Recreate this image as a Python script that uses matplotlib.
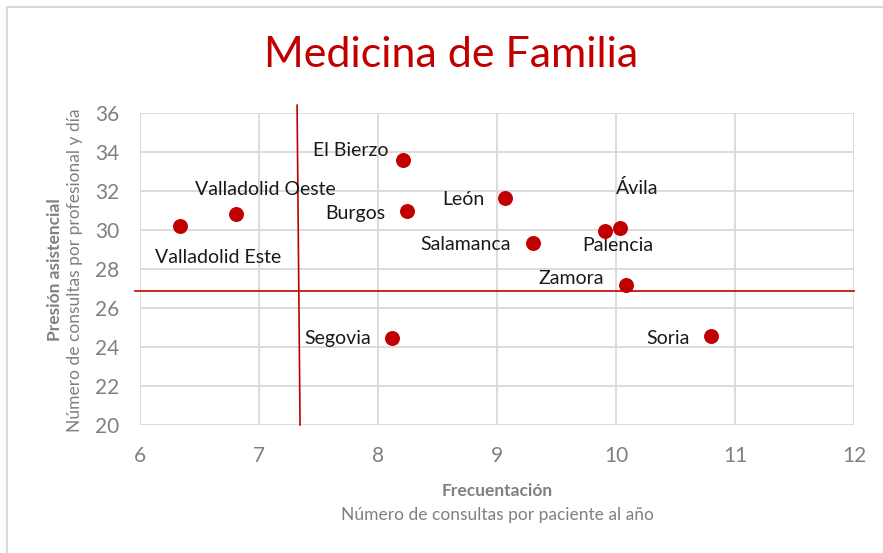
import matplotlib
matplotlib.use("Agg")
import matplotlib.pyplot as plt
from matplotlib.patches import Rectangle

plt.rcParams['font.family'] = ['Lato', 'DejaVu Sans']

# data
areas = ['Valladolid Este', 'Valladolid Oeste', 'El Bierzo', 'Burgos', 'León',
         'Salamanca', 'Palencia', 'Ávila', 'Zamora', 'Soria', 'Segovia']
frecuentacion = [6.34, 6.81, 8.21, 8.24, 9.07, 9.30, 9.91, 10.03, 10.08, 10.80, 8.12]
presion = [30.2, 30.8, 33.6, 30.97, 31.64, 29.33, 29.95, 30.1, 27.18, 24.56, 24.46]

ref_x = [7.32, 7.345]
ref_x_y = [36.4, 20]
ref_y = [26.87, 26.87]
ref_y_x = [5.96, 12]

# label offsets in pixels (dx, dy, ha)
offsets = {
    'Valladolid Este': (38, -31, 'center'),
    'Valladolid Oeste': (29, 25, 'center'),
    'El Bierzo': (-14, 9, 'right'),
    'Burgos': (-21, -2, 'right'),
    'León': (-21, -1, 'right'),
    'Salamanca': (-22, -1, 'right'),
    'Palencia': (13, -15, 'center'),
    'Ávila': (18, 40, 'center'),
    'Zamora': (-22, 6, 'right'),
    'Soria': (-21, -2, 'right'),
    'Segovia': (-21, 0, 'right'),
}

red = '#C00000'
grey = '#808080'

fig = plt.figure(figsize=(8.83, 5.53), dpi=100)
fig.patches.append(Rectangle((7/883, -0.1), 1.2, 1 - 7/553 + 0.1, transform=fig.transFigure,
                             fill=False, edgecolor='#D9D9D9', linewidth=1.5))
ax = fig.add_axes([140/883, 1 - 425/553, 714/883, 312/553])

ax.set_xlim(6, 12)
ax.set_ylim(20, 36)
ax.set_xticks(range(6, 13))
ax.set_yticks(range(20, 37, 2))
ax.grid(True, color='#D9D9D9', linewidth=1.3)
ax.set_axisbelow(True)
for s in ax.spines.values():
    s.set_visible(False)
ax.tick_params(length=0, labelsize=15, labelcolor=grey)
ax.tick_params(axis='y', pad=15)
ax.tick_params(axis='x', pad=15)

ax.plot(ref_x, ref_x_y, color=red, linewidth=1.2, clip_on=False, zorder=3)
ax.plot(ref_y_x, ref_y, color=red, linewidth=1.2, clip_on=False, zorder=3)

ax.scatter(frecuentacion, presion, s=95, color=red, zorder=4, clip_on=False)

for name, x, y in zip(areas, frecuentacion, presion):
    dx, dy, ha = offsets[name]
    ax.annotate(name, (x, y), xytext=(dx * 0.72, dy * 0.72), textcoords='offset points',
                ha=ha, va='center', fontsize=14, color='#1a1a1a')

fig.text(451/883, 1 - 55/553, 'Medicina de Familia', ha='center', va='center',
         fontsize=31, color=red)

fig.text(497/883, 1 - 491/553, 'Frecuentación', ha='center', va='center',
         fontsize=12.5, fontweight='bold', color=grey)
fig.text(497/883, 1 - 515/553, 'Número de consultas por paciente al año', ha='center',
         va='center', fontsize=12.5, color=grey)
fig.text(55/883, 1 - 270/553, 'Presión asistencial', ha='center', va='center',
         rotation=90, fontsize=12.5, fontweight='bold', color=grey)
fig.text(75/883, 1 - 270/553, 'Número de consultas por profesional y día', ha='center',
         va='center', rotation=90, fontsize=12.5, color=grey)

fig.savefig('out.png', dpi=100)
